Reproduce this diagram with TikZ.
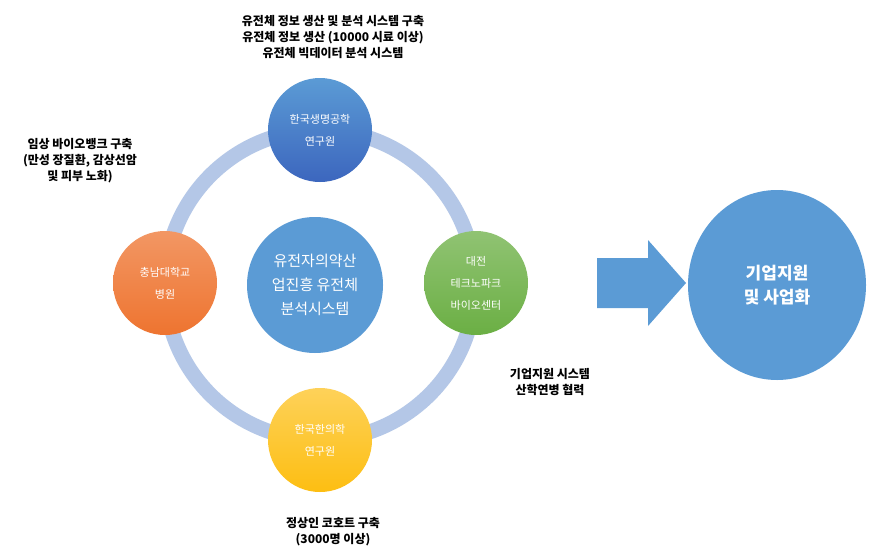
\documentclass[tikz,border=0pt]{standalone}
\usepackage{fontspec}
\setmainfont{Noto Sans CJK KR}
\usetikzlibrary{shapes.geometric}
\definecolor{ring}{HTML}{B4C7E7}
\definecolor{cblue}{HTML}{5B9BD5}
\definecolor{dblue}{HTML}{3C66BE}
\definecolor{corange}{HTML}{EE7430}
\definecolor{cgreen}{HTML}{6BAF44}
\definecolor{cgold}{HTML}{FDBE12}
\begin{document}
\begin{tikzpicture}[x=1pt,y=-1pt,
 sm/.style={circle,minimum size=104pt,inner sep=0pt,text=white,font=\fontsize{11}{22}\selectfont,align=center},
 lab/.style={font=\bfseries\fontsize{12}{16}\selectfont,align=center}]
\useasboundingbox (0,0) rectangle (869,554);
\fill[white] (0,0) rectangle (869,554);
\coordinate (c) at (320,285);
\draw[ring,line width=15pt] (c) circle (155);
\node[circle,fill=cblue,minimum size=136pt,inner sep=0pt,text=white,align=center,font=\fontsize{15}{24}\selectfont] (mid) at (315,285) {유전자의약산\\업진흥 유전체\\분석시스템};
\node[sm,top color=cblue,bottom color=dblue] (top) at (320,130) {한국생명공학\\연구원};
\node[sm,top color=corange!75!white,bottom color=corange] (left) at (165,283) {충남대학교\\병원};
\node[sm,top color=cgreen!75!white,bottom color=cgreen] (right) at (476,283) {대전\\테크노파크\\바이오센터};
\node[sm,top color=cgold!70!white,bottom color=cgold] (bot) at (320,440) {한국한의학\\연구원};
\fill[cblue] (597,258) -- (648,258) -- (648,240) -- (686,283) -- (648,326) -- (648,308) -- (597,308) -- cycle;
\node[ellipse,fill=cblue,minimum width=178pt,minimum height=190pt,inner sep=0pt,text=white,align=center,font=\bfseries\fontsize{17}{24}\selectfont] (big) at (777,285) {기업지원\\및 사업화};
\node[lab] (t1) at (333,37) {유전체 정보 생산 및 분석 시스템 구축\\유전체 정보 생산 (10000 시료 이상)\\유전체 빅데이터 분석 시스템};
\node[lab] (t2) at (80,161) {임상 바이오뱅크 구축\\(만성 장질환, 감상선암\\및 피부 노화)};
\node[lab] (t3) at (550,382) {기업지원 시스템\\산학연병 협력};
\node[lab] (t4) at (333,532) {정상인 코호트 구축\\(3000명 이상)};
\end{tikzpicture}
\end{document}
